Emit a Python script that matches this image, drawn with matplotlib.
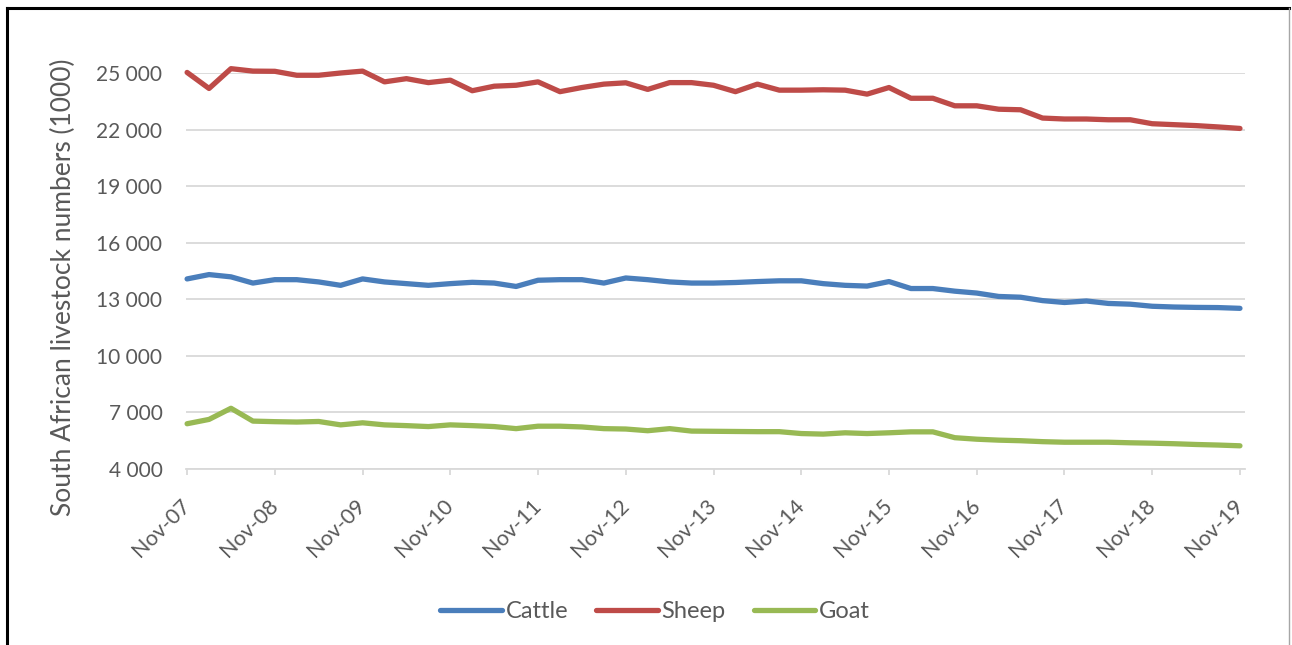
import numpy as np
import matplotlib
matplotlib.use('Agg')
import matplotlib.pyplot as plt
from matplotlib.lines import Line2D
from matplotlib.ticker import FuncFormatter

plt.rcParams['font.family'] = ['Lato', 'DejaVu Sans']

# quarterly livestock numbers (thousands), Nov-07 .. Nov-19
cattle = [14080, 14310, 14190, 13860, 14040, 14040, 13920, 13740, 14080, 13920,
          13830, 13740, 13830, 13900, 13860, 13680, 14010, 14040, 14040, 13860,
          14130, 14040, 13920, 13860, 13860, 13890, 13940, 13980, 13980, 13830,
          13740, 13700, 13940, 13570, 13570, 13430, 13330, 13150, 13110, 12930,
          12830, 12910, 12780, 12740, 12630, 12590, 12570, 12560, 12520]
sheep = [25030, 24180, 25230, 25100, 25090, 24880, 24880, 25000, 25100, 24530,
         24700, 24490, 24620, 24060, 24300, 24350, 24530, 24010, 24230, 24410,
         24480, 24130, 24490, 24490, 24350, 24010, 24410, 24090, 24090, 24110,
         24090, 23880, 24230, 23660, 23660, 23260, 23260, 23080, 23050, 22610,
         22560, 22560, 22520, 22520, 22310, 22260, 22210, 22140, 22060]
goat = [6400, 6630, 7220, 6540, 6510, 6490, 6520, 6340, 6450, 6340,
        6300, 6250, 6340, 6300, 6250, 6140, 6270, 6270, 6230, 6140,
        6120, 6030, 6140, 6010, 6000, 5990, 5980, 5980, 5880, 5850,
        5920, 5880, 5920, 5970, 5970, 5660, 5580, 5530, 5500, 5450,
        5420, 5420, 5420, 5390, 5370, 5340, 5300, 5270, 5230]
year_labels = ['Nov-07', 'Nov-08', 'Nov-09', 'Nov-10', 'Nov-11', 'Nov-12', 'Nov-13',
               'Nov-14', 'Nov-15', 'Nov-16', 'Nov-17', 'Nov-18', 'Nov-19']
y_ticks = [4000, 7000, 10000, 13000, 16000, 19000, 22000, 25000]

grey = '#595959'
q = np.arange(len(cattle))

fig = plt.figure(figsize=(12.92, 6.45), dpi=100)
ax = fig.add_axes([186/1292, 1 - 469/645, (1245 - 186)/1292, (469 - 73)/645])

ax.plot(q, cattle, color='#4A7EBB', lw=3.8, label='Cattle', solid_capstyle='round', clip_on=False)
ax.plot(q, sheep, color='#BE4B48', lw=3.8, label='Sheep', solid_capstyle='round', clip_on=False)
ax.plot(q, goat, color='#98B954', lw=3.8, label='Goat', solid_capstyle='round', clip_on=False)

ax.set_xlim(-0.05, 48.23)
ax.set_ylim(4000, 25000)
ax.set_yticks(y_ticks)
ax.yaxis.set_major_formatter(FuncFormatter(lambda v, p: f'{int(v):,}'.replace(',', ' ')))
ax.set_xticks(q[::4])
ax.set_xticklabels(year_labels, rotation=45, ha='right', va='center',
                   rotation_mode='anchor')

ax.grid(axis='y', color='#D9D9D9', lw=1.3)
ax.set_axisbelow(True)
for s in ['top', 'right', 'left']:
    ax.spines[s].set_visible(False)
ax.spines['bottom'].set_color('#D9D9D9')
ax.spines['bottom'].set_linewidth(1.3)
ax.tick_params(axis='y', length=0, pad=17, labelsize=15, labelcolor=grey)
ax.tick_params(axis='x', length=4, width=1.3, color='#D9D9D9', pad=20,
               labelsize=15.5, labelcolor=grey)

ax.set_ylabel('South African livestock numbers (1000)', fontsize=19, color=grey)
ax.yaxis.set_label_coords(-0.104, 0.46)

ax.legend(loc='center', bbox_to_anchor=(655/1292, 1 - 612/645),
          bbox_transform=fig.transFigure, ncol=3, frameon=False, fontsize=17,
          labelcolor=grey, handlelength=2.6, handletextpad=0.15, columnspacing=1.2)

# frame around the chart
fig.add_artist(Line2D([7/1292, 7/1292], [0, 1 - 8/645], color='black', lw=2.2))
fig.add_artist(Line2D([7/1292, 1289/1292], [1 - 8/645, 1 - 8/645], color='black', lw=2.2))
fig.add_artist(Line2D([1289/1292, 1289/1292], [0, 1 - 8/645], color='#A6A6A6', lw=1))

fig.savefig('out.png', dpi=100, facecolor='white')
